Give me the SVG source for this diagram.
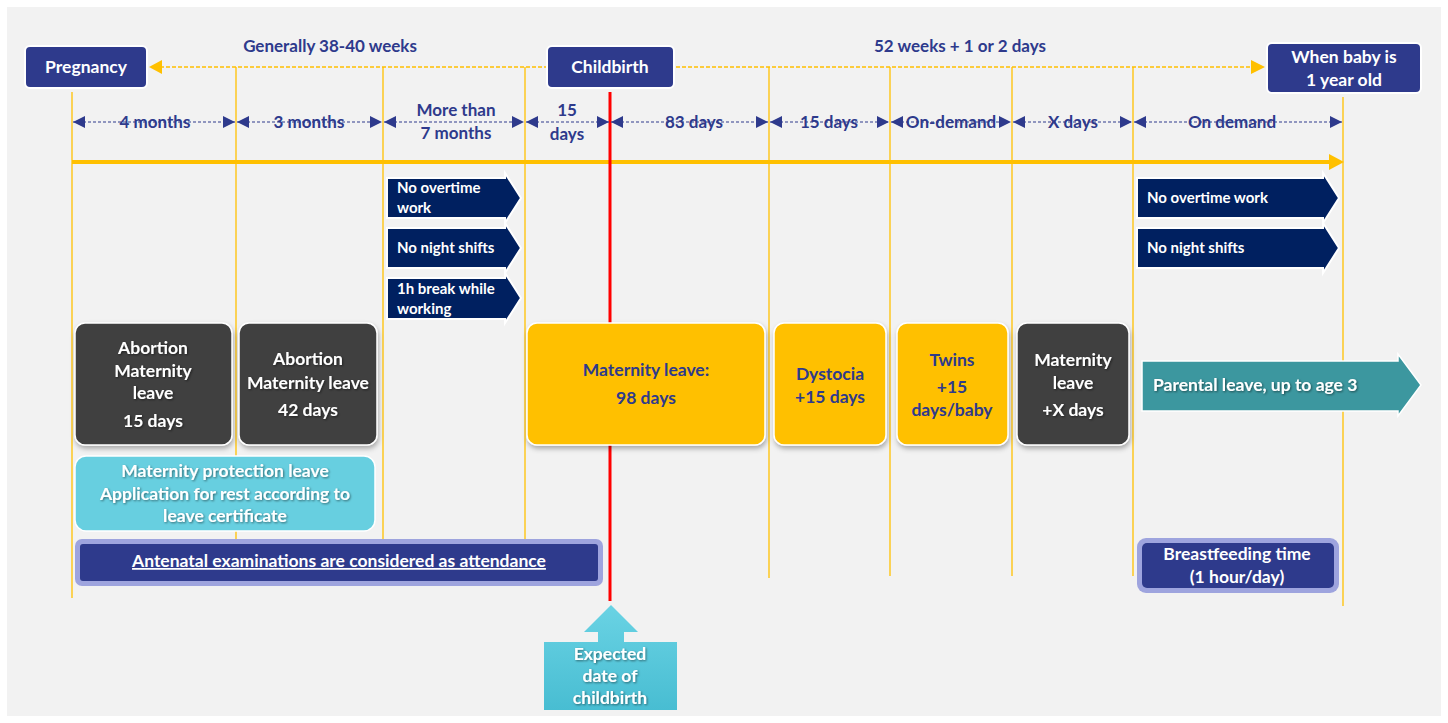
<svg xmlns="http://www.w3.org/2000/svg" width="1448" height="723" viewBox="0 0 1448 723">
<defs>
<style>
text{font-family:Lato,"Liberation Sans",sans-serif;font-weight:700}
.hdr{fill:#2e3a8c;stroke:#fff;stroke-width:2}
.wt{fill:#fff;font-size:17.5px;text-anchor:middle}
.nt{fill:#2e3a8c;font-size:17px;text-anchor:middle}
.ct{fill:#fff;font-size:15px}
.vl{stroke:#ffc000;stroke-width:1.3;fill:none}
.dim{stroke:#2e3a8c;stroke-width:1.2;stroke-dasharray:3 2;marker-start:url(#dh);marker-end:url(#dh)}
.chev{fill:#002060;stroke:#fff;stroke-width:2}
.gray{fill:#404040;stroke:#fff;stroke-width:1.5}
.yel{fill:#ffc000;stroke:#fff;stroke-width:1.5}
.yt{fill:#2e3a8c;font-size:17.5px;text-anchor:middle}
</style>
<marker id="dh" viewBox="0 0 10 10" refX="10" refY="5" markerWidth="12" markerHeight="14" markerUnits="userSpaceOnUse" orient="auto-start-reverse">
<path d="M0,0 L10,5 L0,10 z" fill="#2e3a8c"/>
</marker>
<filter id="sh" x="-10%" y="-10%" width="130%" height="140%">
<feDropShadow dx="1" dy="3" stdDeviation="2.5" flood-color="#000" flood-opacity="0.3"/>
</filter>
<filter id="ts" x="-5%" y="-20%" width="110%" height="150%">
<feDropShadow dx="1" dy="1" stdDeviation="0.8" flood-color="#000" flood-opacity="0.5"/>
</filter>
<linearGradient id="cy" x1="0" y1="0" x2="0" y2="1">
<stop offset="0" stop-color="#6ad3e4"/>
<stop offset="1" stop-color="#48bdd2"/>
</linearGradient>
</defs>
<rect x="0" y="0" width="1448" height="723" fill="#fff"/>
<rect x="7" y="7" width="1434" height="709" fill="#f2f2f2"/>

<g id="connectors">
<line class="vl" x1="72" y1="92" x2="72" y2="598"/>
<line class="vl" x1="236" y1="67" x2="236" y2="540"/>
<line class="vl" x1="383" y1="67" x2="383" y2="540"/>
<line class="vl" x1="525" y1="67" x2="525" y2="540"/>
<line class="vl" x1="769" y1="67" x2="769" y2="578"/>
<line class="vl" x1="890" y1="67" x2="890" y2="576"/>
<line class="vl" x1="1012" y1="67" x2="1012" y2="576"/>
<line class="vl" x1="1133" y1="67" x2="1133" y2="576"/>
<line class="vl" x1="1343" y1="97" x2="1343" y2="606"/>
<line x1="160" y1="67" x2="546" y2="67" stroke="#ffc000" stroke-width="1.3" stroke-dasharray="4 2"/>
<polygon points="149,67 162,60 162,74" fill="#ffc000"/>
<line x1="676" y1="67" x2="1252" y2="67" stroke="#ffc000" stroke-width="1.3" stroke-dasharray="4 2"/>
<polygon points="1265,67 1251,60 1251,74" fill="#ffc000"/>
<line x1="72" y1="162" x2="1330" y2="162" stroke="#ffc000" stroke-width="4"/>
<polygon points="1344,162 1329,154 1329,170" fill="#ffc000"/>
<line x1="610" y1="92" x2="610" y2="601" stroke="#ff0000" stroke-width="3"/>
<line class="dim" x1="73" y1="122" x2="235" y2="122"/>
<line class="dim" x1="237" y1="122" x2="382" y2="122"/>
<line class="dim" x1="384" y1="122" x2="524" y2="122"/>
<line class="dim" x1="526" y1="122" x2="609" y2="122"/>
<line class="dim" x1="611" y1="122" x2="768" y2="122"/>
<line class="dim" x1="770" y1="122" x2="889" y2="122"/>
<line class="dim" x1="891" y1="122" x2="1011" y2="122"/>
<line class="dim" x1="1013" y1="122" x2="1132" y2="122"/>
<line class="dim" x1="1134" y1="122" x2="1342" y2="122"/>
</g>

<g id="labels">
<text class="nt" x="330" y="52">Generally 38-40 weeks</text>
<text class="nt" x="960" y="52">52 weeks + 1 or 2 days</text>
<text class="nt" x="155" y="128">4 months</text>
<text class="nt" x="309" y="128">3 months</text>
<text class="nt" x="456" y="116">More than</text>
<text class="nt" x="456" y="139">7 months</text>
<text class="nt" x="567" y="116">15</text>
<text class="nt" x="567" y="140">days</text>
<text class="nt" x="694" y="128">83 days</text>
<text class="nt" x="829" y="128">15 days</text>
<text class="nt" x="951" y="128">On-demand</text>
<text class="nt" x="1073" y="128">X days</text>
<text class="nt" x="1232" y="128">On demand</text>
</g>

<g id="pregnancy">
<rect class="hdr" x="25" y="46" width="122" height="42" rx="5"/>
<text class="wt" x="86" y="73">Pregnancy</text>
</g>
<g id="childbirth">
<rect class="hdr" x="547" y="46" width="127" height="42" rx="5"/>
<text class="wt" x="610" y="73">Childbirth</text>
</g>
<g id="one-year">
<rect class="hdr" x="1267" y="43" width="154" height="50" rx="5"/>
<text class="wt" x="1344" y="63">When baby is</text>
<text class="wt" x="1344" y="86">1 year old</text>
</g>

<g id="chev-overtime-1">
<polygon class="chev" points="387,178 505,178 505,173 521,198 505,223 505,218 387,218"/>
<text class="ct" x="397" y="193">No overtime</text>
<text class="ct" x="397" y="213">work</text>
</g>
<g id="chev-night-1">
<polygon class="chev" points="387,228 505,228 505,223 521,248 505,273 505,268 387,268"/>
<text class="ct" x="397" y="253">No night shifts</text>
</g>
<g id="chev-break">
<polygon class="chev" points="387,278 505,278 505,273 521,298 505,323 505,319 387,319"/>
<text class="ct" x="397" y="294">1h break while</text>
<text class="ct" x="397" y="314">working</text>
</g>
<g id="chev-overtime-2">
<polygon class="chev" points="1137,178 1323,178 1323,173 1339,198 1323,223 1323,218 1137,218"/>
<text class="ct" x="1147" y="203">No overtime work</text>
</g>
<g id="chev-night-2">
<polygon class="chev" points="1137,228 1323,228 1323,223 1339,248 1323,273 1323,268 1137,268"/>
<text class="ct" x="1147" y="253">No night shifts</text>
</g>

<g id="abortion-15">
<rect class="gray" x="75" y="323" width="157" height="122" rx="10" filter="url(#sh)"/>
<g filter="url(#ts)">
<text class="wt" x="153" y="354">Abortion</text>
<text class="wt" x="153" y="377">Maternity</text>
<text class="wt" x="153" y="399">leave</text>
<text class="wt" x="153" y="427">15 days</text>
</g>
</g>
<g id="abortion-42">
<rect class="gray" x="239" y="323" width="138" height="122" rx="10" filter="url(#sh)"/>
<g filter="url(#ts)">
<text class="wt" x="308" y="365">Abortion</text>
<text class="wt" x="308" y="389">Maternity leave</text>
<text class="wt" x="308" y="416">42 days</text>
</g>
</g>
<g id="maternity-98">
<rect class="yel" x="527" y="323" width="238" height="122" rx="10" filter="url(#sh)"/>
<text class="yt" x="646" y="376">Maternity leave:</text>
<text class="yt" x="646" y="404">98 days</text>
</g>
<g id="dystocia">
<rect class="yel" x="774" y="323" width="112" height="122" rx="10" filter="url(#sh)"/>
<text class="yt" x="830" y="380">Dystocia</text>
<text class="yt" x="830" y="403">+15 days</text>
</g>
<g id="twins">
<rect class="yel" x="897" y="323" width="111" height="122" rx="10" filter="url(#sh)"/>
<text class="yt" x="952" y="366">Twins</text>
<text class="yt" x="952" y="393">+15</text>
<text class="yt" x="952" y="416">days/baby</text>
</g>
<g id="maternity-x">
<rect class="gray" x="1017" y="323" width="112" height="122" rx="10" filter="url(#sh)"/>
<g filter="url(#ts)">
<text class="wt" x="1073" y="366">Maternity</text>
<text class="wt" x="1073" y="389">leave</text>
<text class="wt" x="1073" y="416">+X days</text>
</g>
</g>
<g id="parental">
<polygon points="1142,361 1398,361 1398,354 1421,385 1398,416 1398,411 1142,411" fill="#3c979f" stroke="#fff" stroke-width="1.5"/>
<text x="1153" y="391" fill="#fff" font-size="17.5" filter="url(#ts)">Parental leave, up to age 3</text>
</g>
<g id="protection">
<rect x="75" y="456" width="300" height="75" rx="11" fill="#67cfe0" stroke="#fff" stroke-width="1.5"/>
<g filter="url(#ts)">
<text class="wt" x="225" y="477">Maternity protection leave</text>
<text class="wt" x="225" y="500">Application for rest according to</text>
<text class="wt" x="225" y="522">leave certificate</text>
</g>
</g>
<g id="antenatal">
<rect x="75" y="539" width="528" height="47" rx="7" fill="#9ea4de"/>
<rect x="80" y="544" width="518" height="37" rx="3" fill="#2e3a8c"/>
<text class="wt" x="339" y="567" text-decoration="underline">Antenatal examinations are considered as attendance</text>
</g>
<g id="breastfeeding">
<rect x="1137" y="538" width="202" height="55" rx="9" fill="#9ea4de"/>
<rect x="1142" y="543" width="192" height="45" rx="5" fill="#2e3a8c"/>
<text class="wt" x="1237" y="560">Breastfeeding time</text>
<text class="wt" x="1237" y="583">(1 hour/day)</text>
</g>
<g id="expected-date">
<polygon points="611,605 638,632 624,632 624,642 677,642 677,710 544,710 544,642 598,642 598,632 584,632" fill="url(#cy)"/>
<g filter="url(#ts)">
<text class="wt" x="610" y="660">Expected</text>
<text class="wt" x="610" y="682">date of</text>
<text class="wt" x="610" y="704">childbirth</text>
</g>
</g>
</svg>
